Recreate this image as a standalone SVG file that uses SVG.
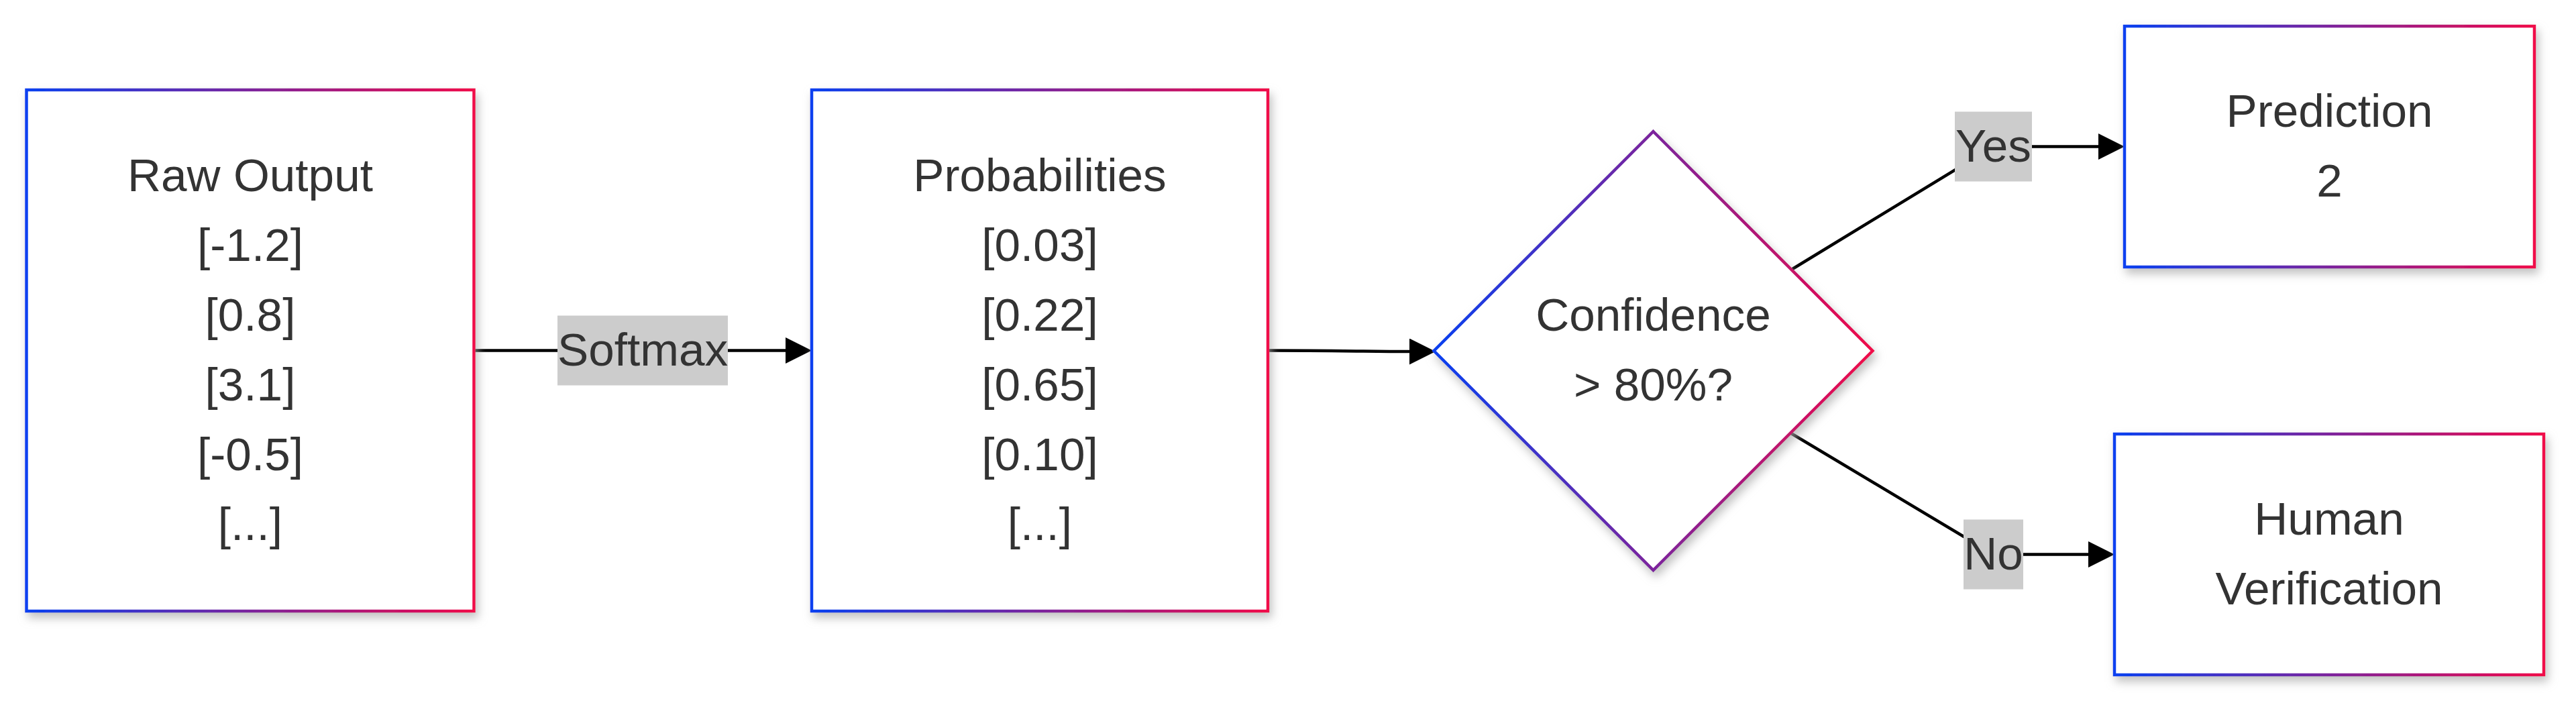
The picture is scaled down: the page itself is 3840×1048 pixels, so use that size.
<svg xmlns="http://www.w3.org/2000/svg" width="3840" height="1048" viewBox="0 0 3840 1048">
  <style>
    .node { fill: #ffffff; stroke: url(#grad); stroke-width: 4.5; filter: url(#shadow); }
    .label { font-family: "Liberation Sans", Arial, Helvetica, sans-serif; font-size: 69.3px; fill: #333333; text-anchor: middle; }
    .edge { fill: none; stroke: #000000; stroke-width: 4.5; }
    .elbg { fill: #cccccc; }
  </style>
  <defs>
    <linearGradient id="grad" x1="0" y1="0" x2="1" y2="0">
      <stop offset="0" stop-color="#0840f0"/>
      <stop offset="1" stop-color="#f0084a"/>
    </linearGradient>
    <filter id="shadow" x="-10%" y="-10%" width="125%" height="125%">
      <feDropShadow dx="4" dy="8" stdDeviation="7" flood-color="#a8a8a8" flood-opacity="0.7"/>
    </filter>
    <marker id="arrow" markerUnits="userSpaceOnUse" markerWidth="40" markerHeight="40" refX="0" refY="19.5" orient="auto" viewBox="0 0 40 40">
      <path d="M0,0 L39,19.5 L0,39 z" fill="#000000"/>
    </marker>
  </defs>

  <g id="edges">
    <path class="edge" d="M706.5,522.5 L1171,522.5" marker-end="url(#arrow)"/>
    <path class="edge" d="M1890,522.5 C1990,522.5 2040,524 2101,524" marker-end="url(#arrow)"/>
    <path class="edge" d="M2672,401 L2960,225.5 Q2972,218.5 2990,218.5 L3128,218.5" marker-end="url(#arrow)"/>
    <path class="edge" d="M2670,646 L2960,819.5 Q2972,826.5 2990,826.5 L3113,826.5" marker-end="url(#arrow)"/>
  </g>

  <g id="edge-labels">
    <g id="label-softmax">
      <rect class="elbg" x="831" y="470.5" width="254" height="104"/>
      <text class="label" x="958" y="545">Softmax</text>
    </g>
    <g id="label-yes">
      <rect class="elbg" x="2914" y="166.5" width="115" height="104"/>
      <text class="label" x="2971.5" y="240.5">Yes</text>
    </g>
    <g id="label-no">
      <rect class="elbg" x="2927" y="774.5" width="89" height="104"/>
      <text class="label" x="2971.5" y="848.5">No</text>
    </g>
  </g>

  <g id="node-raw">
    <rect class="node" x="39.5" y="134" width="667" height="777"/>
    <text class="label" x="373" y="284.5">Raw Output</text>
    <text class="label" x="373" y="388.5">[-1.2]</text>
    <text class="label" x="373" y="492.5">[0.8]</text>
    <text class="label" x="373" y="596.5">[3.1]</text>
    <text class="label" x="373" y="700.5">[-0.5]</text>
    <text class="label" x="373" y="804.5">[...]</text>
  </g>

  <g id="node-prob">
    <rect class="node" x="1210" y="134" width="680" height="777"/>
    <text class="label" x="1550" y="284.5">Probabilities</text>
    <text class="label" x="1550" y="388.5">[0.03]</text>
    <text class="label" x="1550" y="492.5">[0.22]</text>
    <text class="label" x="1550" y="596.5">[0.65]</text>
    <text class="label" x="1550" y="700.5">[0.10]</text>
    <text class="label" x="1550" y="804.5">[...]</text>
  </g>

  <g id="node-confidence">
    <polygon class="node" points="2464.5,196 2791.5,523 2464.5,850 2137.5,523"/>
    <text class="label" x="2464.5" y="492.5">Confidence</text>
    <text class="label" x="2464.5" y="596.5">&gt; 80%?</text>
  </g>

  <g id="node-prediction">
    <rect class="node" x="3167" y="39" width="611" height="359"/>
    <text class="label" x="3472.5" y="188.5">Prediction</text>
    <text class="label" x="3472.5" y="292.5">2</text>
  </g>

  <g id="node-human">
    <rect class="node" x="3152" y="647" width="640" height="359"/>
    <text class="label" x="3472" y="796.5">Human</text>
    <text class="label" x="3472" y="900.5">Verification</text>
  </g>
</svg>
